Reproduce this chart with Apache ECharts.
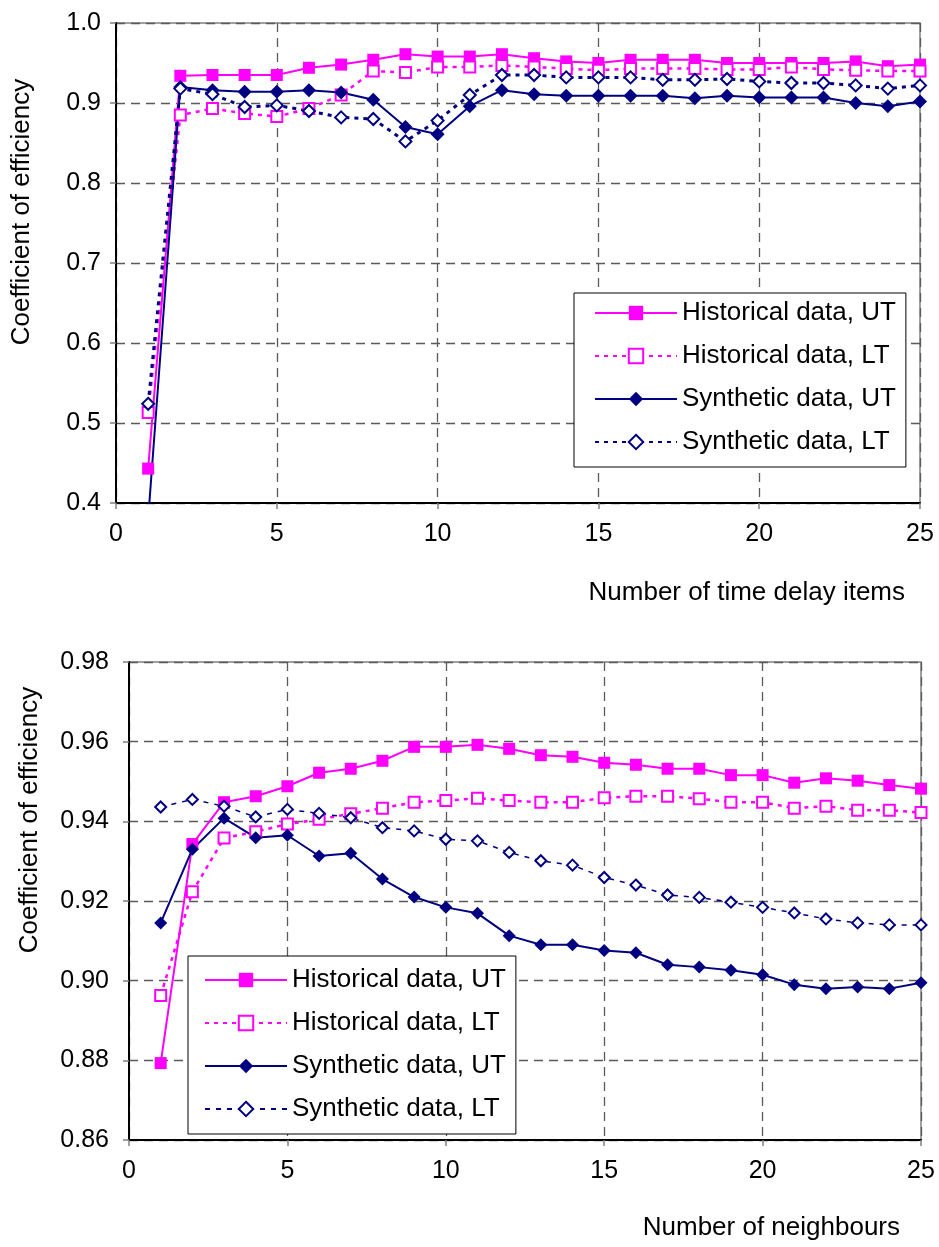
<!DOCTYPE html>
<html>
<head>
<meta charset="utf-8">
<script src="https://cdn.jsdelivr.net/npm/echarts@6/dist/echarts.min.js"></script>
<style>
    html, body { margin: 0; padding: 0; background: #fff; }
    #top { position: absolute; left: 0; top: 0; width: 939px; height: 623px; }
    #bottom { position: absolute; left: 0; top: 623px; width: 939px; height: 624px; }
</style>
</head>
<body>
<div id="top"></div>
<div id="bottom"></div>
<script>
var xs = [1, 2, 3, 4, 5, 6, 7, 8, 9, 10, 11, 12, 13, 14, 15, 16, 17, 18, 19, 20, 21, 22, 23, 24, 25];
var names = ['Historical data, UT', 'Historical data, LT', 'Synthetic data, UT', 'Synthetic data, LT'];

// top chart: number of time delay items
var histUtTop = [0.443, 0.934, 0.935, 0.935, 0.935, 0.944, 0.948, 0.954, 0.961, 0.958, 0.958, 0.961, 0.956, 0.952, 0.950, 0.954, 0.954, 0.954, 0.950, 0.950, 0.950, 0.950, 0.952, 0.946, 0.948];
var histLtTop = [0.513, 0.885, 0.893, 0.887, 0.883, 0.893, 0.910, 0.940, 0.938, 0.945, 0.945, 0.947, 0.945, 0.943, 0.941, 0.943, 0.943, 0.943, 0.942, 0.942, 0.945, 0.942, 0.941, 0.940, 0.940];
var synUtTop = [0.380, 0.920, 0.916, 0.914, 0.914, 0.916, 0.913, 0.904, 0.870, 0.861, 0.896, 0.916, 0.911, 0.909, 0.909, 0.909, 0.909, 0.906, 0.909, 0.907, 0.907, 0.907, 0.900, 0.896, 0.902];
var synLtTop = [0.524, 0.918, 0.911, 0.895, 0.897, 0.890, 0.882, 0.880, 0.852, 0.878, 0.910, 0.935, 0.935, 0.932, 0.932, 0.932, 0.929, 0.929, 0.930, 0.927, 0.925, 0.925, 0.922, 0.918, 0.922];

// bottom chart: number of neighbours
var histUtBot = [0.8793, 0.9343, 0.9448, 0.9463, 0.9488, 0.9522, 0.9532, 0.9552, 0.9587, 0.9587, 0.9592, 0.9582, 0.9566, 0.9562, 0.9547, 0.9542, 0.9532, 0.9532, 0.9516, 0.9516, 0.9497, 0.9508, 0.9502, 0.9491, 0.9482];
var histLtBot = [0.8963, 0.9223, 0.9358, 0.9374, 0.9393, 0.9405, 0.9419, 0.9433, 0.9448, 0.9452, 0.9458, 0.9452, 0.9448, 0.9448, 0.9459, 0.9463, 0.9463, 0.9457, 0.9448, 0.9448, 0.9433, 0.9438, 0.9428, 0.9428, 0.9422];
var synUtBot = [0.9145, 0.9330, 0.9408, 0.9359, 0.9365, 0.9313, 0.9320, 0.9255, 0.9210, 0.9184, 0.9169, 0.9113, 0.9090, 0.9090, 0.9076, 0.9070, 0.9040, 0.9034, 0.9026, 0.9015, 0.8990, 0.8980, 0.8984, 0.8980, 0.8995];
var synLtBot = [0.9436, 0.9455, 0.9438, 0.9411, 0.9430, 0.9420, 0.9409, 0.9384, 0.9376, 0.9355, 0.9351, 0.9322, 0.9301, 0.9290, 0.9259, 0.9240, 0.9215, 0.9209, 0.9197, 0.9184, 0.9170, 0.9155, 0.9145, 0.9140, 0.9140];

var FONT = 'Liberation Sans, Arial, sans-serif';
var FS = 26;      // legend and axis titles
var TICK_FS = 25; // tick labels
var MAGENTA = '#ff00ff';
var NAVY = '#000080';

function pairs(vals) {
    return vals.map(function (v, i) { return [xs[i], v]; });
}

function lineSeries(name, vals, color, symbol, size, lineType, lineWidth) {
    return {
        name: name,
        type: 'line',
        data: pairs(vals),
        symbol: symbol,
        symbolSize: size,
        clip: true,
        color: color,
        lineStyle: { color: color, width: lineWidth, type: lineType },
        itemStyle: { color: color, borderColor: color, borderWidth: symbol.indexOf('empty') === 0 ? 2 : 0 }
    };
}

function xAxisOpt() {
    return {
        type: 'value', min: 0, max: 25, interval: 5,
        axisLine: { onZero: false, lineStyle: { color: '#000', width: 2 } },
        axisTick: { length: 6, lineStyle: { color: '#808080', width: 1.5 } },
        axisLabel: { color: '#000', fontSize: TICK_FS, fontFamily: FONT, margin: 19 },
        splitLine: { show: true, lineStyle: { color: '#5a5a5a', width: 1.3, type: [9, 6] } }
    };
}

function yAxisOpt(min, max, step, digits, margin) {
    return {
        type: 'value', min: min, max: max, interval: step,
        axisLine: { show: true, lineStyle: { color: '#000', width: 2 } },
        axisTick: { show: true, length: 6, lineStyle: { color: '#808080', width: 1.5 } },
        axisLabel: {
            color: '#000', fontSize: TICK_FS, fontFamily: FONT, margin: margin,
            formatter: function (v) { return v.toFixed(digits); }
        },
        splitLine: { show: true, lineStyle: { color: '#5a5a5a', width: 1.3, type: [9, 6] } }
    };
}

function legendOpt(left, top, padding) {
    return {
        orient: 'vertical',
        left: left,
        top: top,
        data: names,
        itemWidth: 82,
        itemHeight: 18,
        itemGap: 13,
        padding: padding,
        backgroundColor: '#fff',
        borderColor: '#000',
        borderWidth: 1,
        borderRadius: 0,
        textStyle: { color: '#000', fontSize: FS, fontFamily: FONT, lineHeight: 30 }
    };
}

function axisTitle(text, x, y, rotated, align) {
    return {
        type: 'text',
        x: x,
        y: y,
        rotation: rotated ? Math.PI / 2 : 0,
        style: {
            text: text,
            font: FS + 'px ' + FONT,
            fill: '#000',
            textAlign: align,
            textVerticalAlign: 'middle'
        }
    };
}

function drawTop(dom) {
    var myChart = echarts.init(dom);
    var option = {
        animation: false,
        backgroundColor: '#fff',
        grid: { left: 116, right: 19, top: 23, height: 480, show: true, borderColor: '#808080', borderWidth: 1.5 },
        xAxis: xAxisOpt(),
        yAxis: yAxisOpt(0.4, 1.0, 0.1, 1, 15),
        legend: legendOpt(574, 293, [5, 10, 10, 20]),
        graphic: [
            axisTitle('Coefficient of efficiency', 22, 212, true, 'center'),
            axisTitle('Number of time delay items', 905, 593, false, 'right')
        ],
        series: [
            lineSeries(names[0], histUtTop, MAGENTA, 'rect', 12, 'solid', 2),
            lineSeries(names[1], histLtTop, MAGENTA, 'emptyRect', 11, [4, 5], 2.5),
            lineSeries(names[2], synUtTop, NAVY, 'diamond', 14, 'solid', 2),
            lineSeries(names[3], synLtTop, NAVY, 'emptyDiamond', 12, [4, 5], 3)
        ]
    };
    myChart.setOption(option, true);
}

function drawBottom(dom) {
    var myChart = echarts.init(dom);
    var option = {
        animation: false,
        backgroundColor: '#fff',
        grid: { left: 129, right: 18, top: 39, height: 478, show: true, borderColor: '#808080', borderWidth: 1.5 },
        xAxis: xAxisOpt(),
        yAxis: yAxisOpt(0.86, 0.98, 0.02, 2, 20),
        legend: legendOpt(188, 333, [9, 10, 10, 16]),
        graphic: [
            axisTitle('Coefficient of efficiency', 30, 197, true, 'center'),
            axisTitle('Number of neighbours', 900, 605, false, 'right')
        ],
        series: [
            lineSeries(names[0], histUtBot, MAGENTA, 'rect', 12, 'solid', 2),
            lineSeries(names[1], histLtBot, MAGENTA, 'emptyRect', 11, [4, 5], 2.5),
            lineSeries(names[2], synUtBot, NAVY, 'diamond', 13, 'solid', 2),
            lineSeries(names[3], synLtBot, NAVY, 'emptyDiamond', 11, [5, 6], 1.5)
        ]
    };
    myChart.setOption(option, true);
}

drawTop(document.getElementById('top'));
drawBottom(document.getElementById('bottom'));
</script>
</body>
</html>
